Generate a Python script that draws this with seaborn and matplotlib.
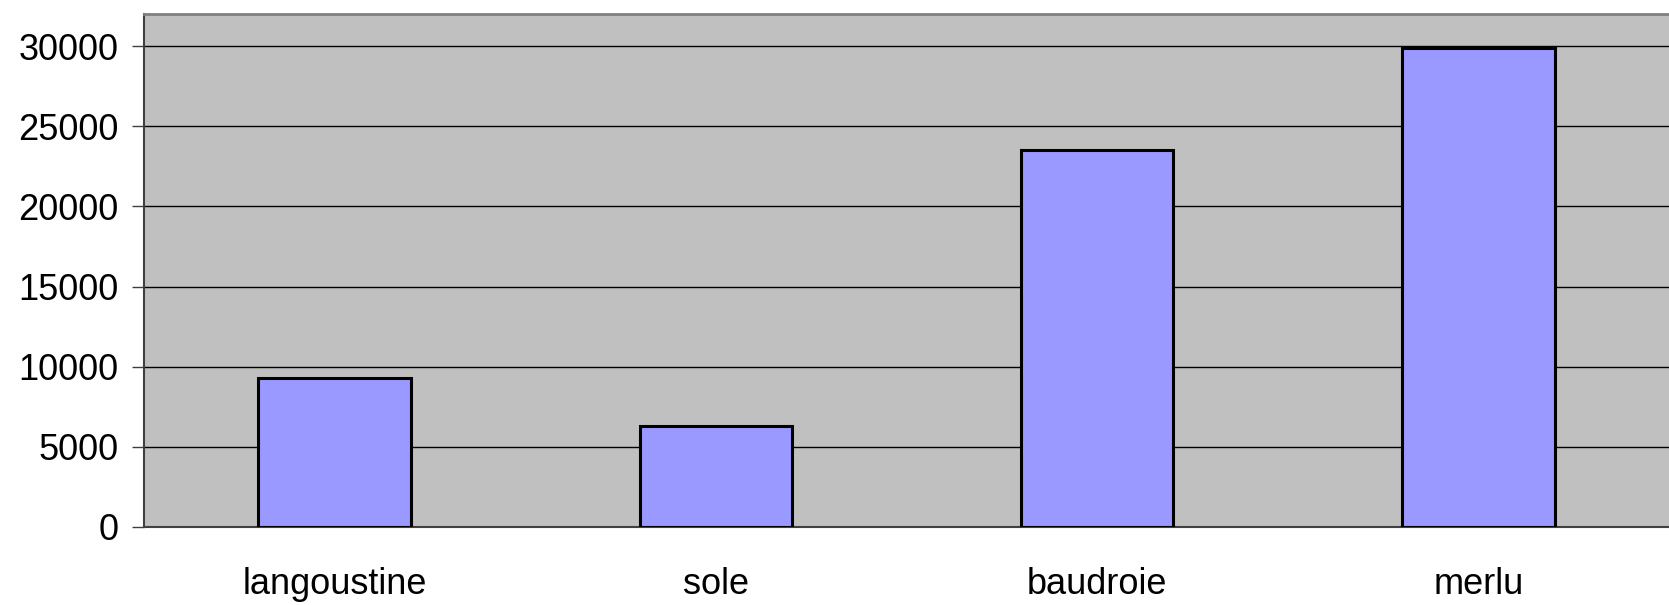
import pandas as pd
import matplotlib.pyplot as plt
import seaborn as sns

# data
species = ["langoustine", "sole", "baudroie", "merlu"]
tonnage = [9300, 6330, 23520, 29860]

df = pd.DataFrame({"species": species, "tonnage": tonnage})

sns.set_style("white")
plt.rcParams["font.family"] = ["Liberation Sans", "DejaVu Sans"]

fig = plt.figure(figsize=(16.69, 6.05), dpi=100)
ax = fig.add_axes([144 / 1669, 1 - 527 / 605, 1 - 144 / 1669, (527 - 14) / 605])
ax.set_facecolor("#C0C0C0")

sns.barplot(
    data=df,
    x="species",
    y="tonnage",
    color="#9999FF",
    saturation=1,
    width=0.4,
    edgecolor="black",
    linewidth=2.2,
    ax=ax,
    zorder=3,
)

# gridlines
ax.set_ylim(0, 32000)
ax.set_yticks(range(0, 30001, 5000))
ax.yaxis.grid(True, color="black", linewidth=1, zorder=0)
ax.set_axisbelow(True)
ax.set_xlim(-0.5, 3.48)

# ticks at category boundaries, labels at centres
ax.set_xticks([-0.5, 0.5, 1.5, 2.5, 3.5], minor=True)
ax.tick_params(axis="x", which="major", length=0, pad=29, labelsize=26, labelcolor="black")
ax.tick_params(axis="x", which="minor", length=8.6, width=1, color="#404040", direction="out")
ax.tick_params(axis="y", length=8.6, width=1, color="#404040", direction="out", pad=9.5,
               labelsize=26, labelcolor="black", left=True)

ax.set_xlabel("")
ax.set_ylabel("")

for side in ["left", "bottom"]:
    ax.spines[side].set_color("#404040")
    ax.spines[side].set_linewidth(1.5)
ax.spines["top"].set_color("#808080")
ax.spines["top"].set_linewidth(2)
ax.spines["right"].set_visible(False)

fig.savefig("out.png", dpi=100, facecolor="white")
